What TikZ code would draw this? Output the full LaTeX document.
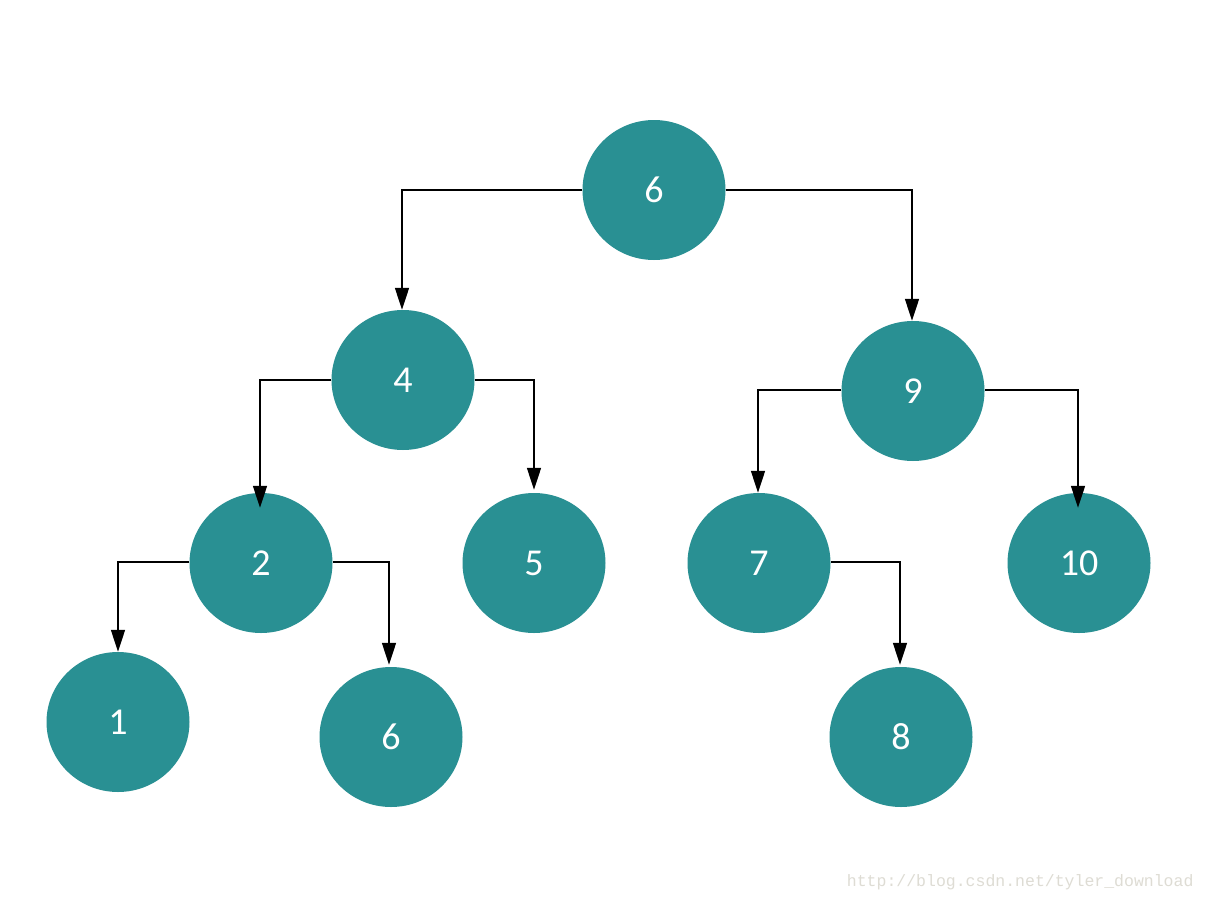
\documentclass[tikz,border=0pt]{standalone}
\usepackage{fontspec}
\setmainfont{Carlito}
\newfontfamily\wmfont{Liberation Mono}
\usetikzlibrary{arrows.meta,shapes.geometric}
\definecolor{teal1}{RGB}{41,144,147}
\definecolor{wm}{RGB}{222,220,212}
\begin{document}
\begin{tikzpicture}[x=1pt,y=-1pt,
  tnode/.style={ellipse, fill=teal1, minimum width=143pt, minimum height=140pt, inner sep=0pt,
    text=white, font=\fontsize{38}{42}\selectfont},
  link/.style={draw=black, line width=1.5pt, -{Triangle[length=22pt,width=14pt]}}]
\useasboundingbox (0,0) rectangle (1208,902);
\fill[white] (0,0) rectangle (1208,902);
\node[tnode] (r6) at (654,190) {6};
\node[tnode] (n4) at (403,380) {4};
\node[tnode] (n9) at (913,391) {9};
\node[tnode] (n2) at (261,563) {2};
\node[tnode] (n5) at (534,563) {5};
\node[tnode] (n7) at (759,563) {7};
\node[tnode] (n10) at (1079,563) {10};
\node[tnode] (n1) at (118,722) {1};
\node[tnode] (n6b) at (391,737) {6};
\node[tnode] (n8) at (901,737) {8};
\draw[link] (r6.west) -| ([xshift=-1pt]n4.north);
\draw[link] (r6.east) -| ([xshift=-1pt]n9.north);
\draw[link] (n4.west) -| ([xshift=-1pt,yshift=-15pt]n2.north);
\draw[link] (n4.east) -| ([yshift=3pt]n5.north);
\draw[link] ([yshift=1pt]n9.west) -| ([xshift=-1pt]n7.north);
\draw[link] ([yshift=1pt]n9.east) -| ([xshift=-1pt,yshift=-15pt]n10.north);
\draw[link] ([yshift=1pt]n2.west) -| (n1.north);
\draw[link] ([yshift=1pt]n2.east) -| ([xshift=-2pt,yshift=2pt]n6b.north);
\draw[link] ([yshift=1pt]n7.east) -| ([xshift=-1pt,yshift=2pt]n8.north);
\node[text=wm, font=\wmfont\fontsize{16.5}{18}\selectfont, anchor=east] (wmk) at (1197,882) {http://blog.csdn.net/tyler\_download};
\end{tikzpicture}
\end{document}
